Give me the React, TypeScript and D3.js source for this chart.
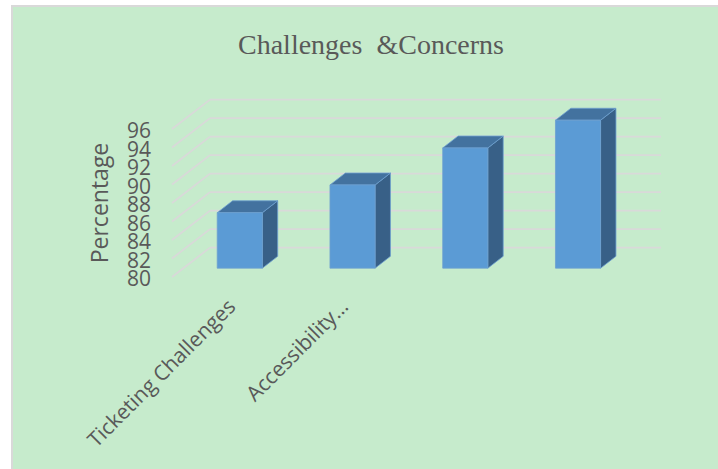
import React, { useEffect } from 'react';
import * as d3 from 'd3';

// chart data
const categories = ['Ticketing Challenges', 'Accessibility…', '', ''];
const values = [86, 89, 93, 96];
const yTicks = [80, 82, 84, 86, 88, 90, 92, 94, 96];

const W = 718;
const H = 469;

// 3D frame: front-left of the floor, and the depth vector
const X0 = 172;
const X1 = 623;
const DX = 38;
const DY = -29.4;
// bars sit between these depth fractions
const T0 = 0.3;
const T1 = 0.705;

const TEXT = '#595959';
const GRID = '#d9d9d9';

const App: React.FC = () => {
  useEffect(() => {
    document.body.style.margin = '0';
  }, []);

  const y = d3.scaleLinear().domain([80, 96]).range([277, 129]);
  const x = d3
    .scaleBand<number>()
    .domain(categories.map((_, i) => i))
    .range([X0, X1])
    .paddingInner(0.6)
    .paddingOuter(0.3);

  const bw = x.bandwidth();
  const ddx = (T1 - T0) * DX;
  const ddy = (T1 - T0) * DY;
  const pts = (p: [number, number][]) => p.map((d) => d.join(',')).join(' ');

  return (
    <svg width={W} height={H} style={{ display: 'block' }}>
      <rect x={12} y={6} width={720} height={480} fill="#c6ebcc" stroke={GRID} strokeWidth={2} />

      <text
        x={371}
        y={54}
        textAnchor="middle"
        fontFamily="'Liberation Serif', 'Times New Roman', serif"
        fontSize={28}
        fill={TEXT}
        style={{ whiteSpace: 'pre' }}
      >
        {'Challenges  &Concerns'}
      </text>

      {/* walls: side diagonals and back gridlines */}
      {yTicks.map((t) => (
        <g key={t} stroke={GRID} strokeWidth={1.8} fill="none">
          <line x1={X0} y1={y(t)} x2={X0 + DX} y2={y(t) + DY} />
          <line x1={X0 + DX} y1={y(t) + DY} x2={X1 + DX} y2={y(t) + DY} />
        </g>
      ))}

      {/* y tick labels */}
      {yTicks.map((t) => (
        <text
          key={'l' + t}
          x={151}
          y={y(t) + 1}
          textAnchor="end"
          dominantBaseline="central"
          fontFamily="'Open Sans', sans-serif"
          fontSize={21}
          fill={TEXT}
        >
          {t}
        </text>
      ))}

      <text
        transform="translate(108,203) rotate(-90)"
        textAnchor="middle"
        fontFamily="'Open Sans', sans-serif"
        fontSize={23}
        fill={TEXT}
      >
        Percentage
      </text>

      {/* bars */}
      {values.map((v, i) => {
        const bx = (x(i) as number) + T0 * DX;
        const top = y(v) + T0 * DY;
        const bot = y(80) + T0 * DY;
        return (
          <g key={'b' + i} stroke="#6d9fcf" strokeWidth={0.8} strokeLinejoin="round">
            <polygon
              points={pts([
                [bx + bw, top],
                [bx + bw + ddx, top + ddy],
                [bx + bw + ddx, bot + ddy],
                [bx + bw, bot],
              ])}
              fill="#386087"
            />
            <polygon
              points={pts([
                [bx, top],
                [bx + ddx, top + ddy],
                [bx + bw + ddx, top + ddy],
                [bx + bw, top],
              ])}
              fill="#43729f"
            />
            <rect x={bx} y={top} width={bw} height={bot - top} fill="#5b9bd5" />
          </g>
        );
      })}

      {/* category labels */}
      {categories.map((c, i) => {
        const cx = (x(i) as number) + bw / 2 + T0 * DX;
        return (
          <text
            key={'c' + i}
            transform={`translate(${cx - 3},308) rotate(-45)`}
            textAnchor="end"
            fontFamily="'Open Sans', sans-serif"
            fontSize={21}
            fill={TEXT}
          >
            {c}
          </text>
        );
      })}
    </svg>
  );
};

export default App;
